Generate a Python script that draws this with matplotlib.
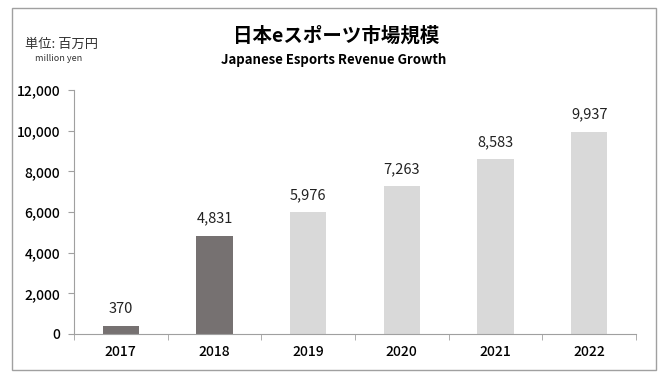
import matplotlib
matplotlib.use("Agg")
import matplotlib.pyplot as plt
from matplotlib.patches import Rectangle
from matplotlib.ticker import FuncFormatter, FixedLocator

plt.rcParams['font.family'] = ['Noto Sans CJK JP', 'DejaVu Sans']

# Data
years = ["2017", "2018", "2019", "2020", "2021", "2022"]
revenue = [370, 4831, 5976, 7263, 8583, 9937]
bar_colors = ["#767171", "#767171", "#d9d9d9", "#d9d9d9", "#d9d9d9", "#d9d9d9"]

fig = plt.figure(figsize=(6.64, 3.82), dpi=100)
ax = fig.add_axes([0.1114, 0.1257, 0.8464, 0.6387])

x = range(len(years))
ax.bar(x, revenue, width=0.39, color=bar_colors)
for i, v in zip(x, revenue):
    ax.text(i, v + 500, f"{v:,}", ha="center", va="bottom", fontsize=10.5, color="#222222")

ax.set_xlim(-0.5, len(years) - 0.5)
ax.set_ylim(0, 12000)
ax.set_yticks(range(0, 12001, 2000))
ax.yaxis.set_major_formatter(FuncFormatter(lambda v, p: f"{int(v):,}"))
ax.set_xticks(list(x))
ax.set_xticklabels(years, fontsize=10)
ax.xaxis.set_minor_locator(FixedLocator([i + 0.5 for i in range(-1, len(years))]))
ax.tick_params(axis="x", which="major", length=0, pad=8)
ax.tick_params(axis="x", which="minor", length=4, color="#a0a0a0", direction="out")
ax.tick_params(axis="y", length=4, color="#a0a0a0", labelsize=10, pad=6)
for lbl in ax.get_xticklabels() + ax.get_yticklabels():
    lbl.set_fontweight("medium")

for s in ["top", "right"]:
    ax.spines[s].set_visible(False)
ax.spines["left"].set_color("#a0a0a0")
ax.spines["bottom"].set_color("#a0a0a0")

# Titles
fig.text(0.506, 0.905, "日本eスポーツ市場規模", ha="center", va="center", fontsize=14, fontweight="bold")
fig.text(0.503, 0.843, "Japanese Esports Revenue Growth", ha="center", va="center", fontsize=9.5, fontweight="bold")
fig.text(0.092, 0.885, "単位: 百万円", ha="center", va="center", fontsize=9.5, color="#333333")
fig.text(0.088, 0.848, "million yen", ha="center", va="center", fontsize=6.5, color="#333333")

# Outer frame
fig.patches.append(Rectangle((12 / 664, 1 - 370 / 382), 644 / 664, 362 / 382,
                             transform=fig.transFigure, fill=False,
                             edgecolor="#a0a0a0", linewidth=1))

fig.savefig("out.png", dpi=100)
